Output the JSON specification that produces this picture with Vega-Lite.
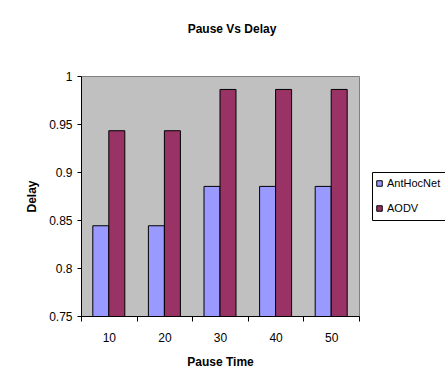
{
  "$schema": "https://vega.github.io/schema/vega-lite/v6.json",
  "width": 278,
  "height": 240,
  "autosize": {"type": "none"},
  "padding": {"left": 81, "top": 76, "right": 86, "bottom": 69},
  "background": "white",
  "title": {
    "text": "Pause Vs Delay",
    "font": "Liberation Sans",
    "fontSize": 12,
    "fontWeight": "bold",
    "color": "black",
    "anchor": "middle",
    "baseline": "alphabetic",
    "dx": 12,
    "offset": 25
  },
  "data": {
    "values": [
      {"Pause": 10, "Protocol": "AntHocNet", "Delay": 0.844},
      {"Pause": 10, "Protocol": "AODV", "Delay": 0.943},
      {"Pause": 20, "Protocol": "AntHocNet", "Delay": 0.844},
      {"Pause": 20, "Protocol": "AODV", "Delay": 0.943},
      {"Pause": 30, "Protocol": "AntHocNet", "Delay": 0.885},
      {"Pause": 30, "Protocol": "AODV", "Delay": 0.986},
      {"Pause": 40, "Protocol": "AntHocNet", "Delay": 0.885},
      {"Pause": 40, "Protocol": "AODV", "Delay": 0.986},
      {"Pause": 50, "Protocol": "AntHocNet", "Delay": 0.885},
      {"Pause": 50, "Protocol": "AODV", "Delay": 0.986}
    ]
  },
  "mark": {"type": "bar", "stroke": "black", "strokeWidth": 1, "clip": true},
  "encoding": {
    "x": {
      "field": "Pause",
      "type": "ordinal",
      "scale": {"paddingInner": 0, "paddingOuter": 0},
      "axis": {
        "title": "Pause Time",
        "labelAngle": 0,
        "tickBand": "extent",
        "tickSize": 5,
        "labelPadding": 11,
        "titlePadding": 13
      }
    },
    "xOffset": {
      "field": "Protocol",
      "type": "nominal",
      "sort": ["AntHocNet", "AODV"],
      "scale": {"paddingInner": 0, "paddingOuter": 0.7375}
    },
    "y": {
      "field": "Delay",
      "type": "quantitative",
      "scale": {"domain": [0.75, 1], "nice": false, "zero": false},
      "axis": {
        "title": "Delay",
        "values": [0.75, 0.8, 0.85, 0.9, 0.95, 1],
        "format": "~g",
        "tickSize": 4,
        "labelPadding": 5,
        "titlePadding": 10
      }
    },
    "color": {
      "field": "Protocol",
      "type": "nominal",
      "scale": {"domain": ["AntHocNet", "AODV"], "range": ["#9999FF", "#993366"]},
      "legend": {
        "title": null,
        "orient": "none",
        "legendX": 291,
        "legendY": 96,
        "strokeColor": "black",
        "fillColor": "white",
        "padding": 6,
        "symbolOffset": -4,
        "symbolType": "square",
        "symbolSize": 30,
        "symbolStrokeColor": "black",
        "symbolStrokeWidth": 1,
        "symbolOpacity": 1,
        "labelFont": "Liberation Sans",
        "labelFontSize": 11,
        "labelColor": "black",
        "labelOffset": 2,
        "rowPadding": 13
      }
    }
  },
  "config": {
    "view": {"fill": "#C0C0C0", "stroke": "#808080", "strokeWidth": 1},
    "axis": {
      "grid": false,
      "domainColor": "black",
      "tickColor": "black",
      "labelColor": "black",
      "labelFont": "Liberation Sans",
      "labelFontSize": 12,
      "titleFont": "Liberation Sans",
      "titleFontSize": 12,
      "titleFontWeight": "bold",
      "titleColor": "black"
    }
  }
}
